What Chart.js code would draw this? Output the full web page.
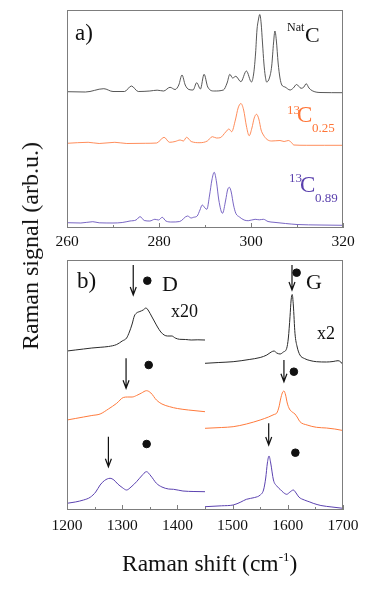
<!DOCTYPE html>
<html><head><meta charset="utf-8">
<script src="https://cdn.jsdelivr.net/npm/chart.js@4"></script>
<style>
body{margin:0;background:#fff;width:374px;height:591px;overflow:hidden;position:relative;font-family:"Liberation Serif","Times New Roman",serif;}
canvas{position:absolute;left:0;}
.t{position:absolute;line-height:1;white-space:nowrap;color:#111;}
.o{color:#ff7436;}
.p{color:#5a40ad;}
</style></head><body>
<canvas id="ca" width="374" height="256" style="top:0"></canvas>
<canvas id="cb" width="374" height="341" style="top:250px"></canvas>

<div class="t" style="left:75px;top:21px;font-size:23px;">a)</div>
<div class="t" style="left:287px;top:21px;font-size:12px;">Nat</div>
<div class="t" style="left:305px;top:24px;font-size:22px;">C</div>
<div class="t o" style="left:287px;top:103px;font-size:13px;">13</div>
<div class="t o" style="left:297px;top:103px;font-size:23px;">C</div>
<div class="t o" style="left:312px;top:121px;font-size:13px;">0.25</div>
<div class="t p" style="left:289px;top:171px;font-size:13px;">13</div>
<div class="t p" style="left:300px;top:173px;font-size:23px;">C</div>
<div class="t p" style="left:315px;top:191px;font-size:13px;">0.89</div>

<div class="t" style="left:77px;top:269px;font-size:23px;">b)</div>
<div class="t" style="left:162px;top:273px;font-size:22px;">D</div>
<div class="t" style="left:306px;top:271px;font-size:22px;">G</div>
<div class="t" style="left:171px;top:302px;font-size:18px;">x20</div>
<div class="t" style="left:317px;top:324px;font-size:18px;">x2</div>

<div class="t" style="left:30px;top:246px;font-size:24px;transform:translate(-50%,-50%) rotate(-90deg);">Raman signal (arb.u.)</div>
<div class="t" style="left:122px;top:552px;font-size:23.5px;">Raman shift (cm<span style="font-size:13px;position:relative;top:-10px;">-1</span>)</div>

<script>
// ---------- Panel a) low-frequency region ----------
const shiftNat = [260,264,268,270,272.5,274,275.5,278,279.6,281,282.4,283.5,284.3,285,285.7,286.5,287.4,288.2,289,289.8,290.6,292,294,294.8,295.4,296,296.7,297.8,299,300.1,300.6,301.0,301.3,301.6,301.9,302.2,302.5,302.8,303.1,303.4,304.0,304.5,304.9,305.2,305.5,305.9,306.3,306.7,307.4,308.5,309.2,309.9,310.9,311.5,312,312.6,313.3,315,320];
const sigNat = [136.3,136,139.3,136.5,136.5,142,136.5,137,137.8,137,140.7,138.5,143,153,143,138.5,138,145.3,139,153.7,141,137,138,145,153.7,150,151.7,146.3,157,146,155,175,198,208,213.5,205,185,165,152,146,150,162,185,197,188,165,150,143,141,138,140,143.5,139.7,141,144.3,140,137.3,135.5,135.3];

const shift25 = [260,264.6,267,270.4,273,277,279.5,281.1,282.3,283.5,284.6,285.3,286,287,288.9,290.5,291.6,292.5,293.3,294.5,295.2,295.8,296.6,297.2,297.8,298.4,299.0,299.6,300.2,300.7,301.2,301.7,302.2,302.7,303.5,304.5,306.3,307.2,308.1,308.8,309.3,312,316,320];
const sig25 = [84.7,85.7,84.5,85.7,84.5,84.7,85,90.7,85.7,86.5,88,87,90.7,86.5,85.3,87,91.3,90,90.3,96,99,96.3,108,120,124.5,118,102,92.3,100,110,113.7,109,98,93,88.5,87,87.5,86.5,87.5,85.5,83,82.7,82.7,82.7];

const shift89 = [260,263,265.6,267,270,272,273.7,275.0,275.9,276.8,278,279.1,279.9,280.7,281.5,282.8,284.5,286.2,287,287.5,288.3,288.9,289.4,290.0,290.4,291.0,291.5,292.0,292.5,293.0,293.8,294.5,294.9,295.3,295.7,296.2,296.7,297.5,298.5,299.4,300.9,301.8,302.7,303.7,305,307.5,310,315,320];
const sig89 = [5.3,5,6.3,5.2,5,5.5,7,8,11.3,7.5,7,8.7,8,10.7,7,6,6.5,12,10,10.7,12,18,23,20,18.7,33,48,55.7,46,28,14.7,28,38,40.7,36,23,14.7,11,8,7.3,8.7,8.2,8.7,6.5,5.7,4.5,3.5,3,2.7];

const ticksA = [260,280,300,320];

// ---------- Panel b) D and G bands ----------
const shiftD_nat = [1200,1215,1230,1245,1260,1275,1290,1300,1308,1313,1318,1322,1326,1332,1338,1343,1348,1353,1358,1364,1370,1376,1382,1390,1396,1404,1415,1425,1437,1450];
const sigD_nat = [159,160,161,162,162.7,163.5,165.5,169,172,178,186,194,197,198.5,200,202,199,194,189,183,178,175,174,174,172,170.7,170.5,170,170.2,170];
const shiftD_25 = [1200,1215,1230,1245,1260,1275,1290,1302,1310,1318,1326,1335,1344,1352,1362,1372,1386,1400,1420,1450];
const sigD_25 = [90,91.5,93,94.5,96,101,106.7,112.5,113,113,114.5,117,119.3,117,110,106,103.3,101.5,100,98.3];
const shiftD_89 = [1200,1215,1230,1242,1252,1260,1268,1278,1285,1292,1300,1308,1316,1326,1335,1344,1352,1362,1372,1384,1393,1410,1430,1450];
const sigD_89 = [6.7,8,10,12.7,18,25,29.5,31.7,30,26,22.5,20,23,28.3,34,38.3,34,26.7,23,21,20.7,19,18.5,18.3];

const shiftG_nat = [1450,1475,1501,1530,1550,1562,1570,1575,1580,1586,1592,1598,1601,1604,1606,1608,1610,1613,1617,1622,1630,1640,1652,1670,1682,1691,1696,1700];
const sigG_nat = [146.7,147.5,148.3,150.5,152.5,155,158,159,157,156,158,161.7,172,193.3,210,215.5,205,176.7,163,155,151.5,149.5,148.3,148,148.5,149.3,148,145];
const shiftG_25 = [1450,1480,1501,1525,1550,1565,1575,1580,1584,1587,1590,1593,1596,1599,1603,1608,1613,1618,1622,1635,1652,1670,1685,1700];
const sigG_25 = [81.7,82.5,83.3,86,90,93,95.5,97,103,111,117,119,115,107,101,98,96,92,88.3,85,82.7,82,81,79.5];
const shiftG_89 = [1450,1480,1501,1515,1525,1540,1550,1556,1560,1563,1566,1569,1574,1580,1586,1592,1598,1604,1610,1615,1620,1630,1640,1646,1660,1680,1700];
const sigG_89 = [3.3,4.2,5,8,10.7,12.5,15,20,32,47,54,47,30,24,20.7,17.5,15.7,18,20,17,13,10,8,6.7,4.5,3,1.7];

const dotShift = [1345.5,1348,1344.3,1616,1611,1613.7];
const dotSig = [229.3,145,66,237.3,138.3,57.3];
const arrowShift = [1320,1307,1275,1607.6,1593,1565.4];
const arrowFrom = [245,151.7,73.3,245,150,86.7];
const arrowTo = [215,121.7,43.3,220,128.3,65];

const ticksB = [1200,1300,1400,1500,1600,1700];

// ---------- helpers ----------
const pts = (xs, ys) => xs.map((x, i) => ({x: x, y: ys[i]}));
const COL_K = '#2a2a2a', COL_O = '#ff7a3c', COL_P = '#5b42b0';
const line = (xs, ys, c, w) => ({type:'line', data: pts(xs, ys), borderColor: c, borderWidth: w, pointRadius: 0, fill: false, cubicInterpolationMode: 'monotone'});

const frameTicks = {
  id: 'frameTicks',
  afterDraw(chart, args, opts) {
    const {ctx, chartArea: a, scales: {x}} = chart;
    ctx.save();
    ctx.strokeStyle = '#7d7d7d';
    ctx.lineWidth = 1;
    ctx.strokeRect(Math.round(a.left) + 0.5, Math.round(a.top) + 0.5, Math.round(a.right - a.left) - 1, Math.round(a.bottom - a.top) - 1);
    ctx.beginPath();
    const n = Math.round((x.max - x.min) / opts.minor);
    for (let i = 0; i <= n; i++) {
      const v = x.min + i * opts.minor;
      const px = Math.round(x.getPixelForValue(v)) + 0.5;
      const len = (i % opts.ratio === 0) ? 5 : 3;
      ctx.moveTo(px, a.bottom); ctx.lineTo(px, a.bottom - len);
    }
    ctx.stroke();
    ctx.restore();
  }
};

const arrows = {
  id: 'arrows',
  afterDatasetsDraw(chart) {
    const {ctx, scales: {x, y}} = chart;
    ctx.save();
    ctx.strokeStyle = '#111';
    ctx.lineWidth = 1.2;
    arrowShift.forEach((s, i) => {
      const px = x.getPixelForValue(s);
      const y0 = y.getPixelForValue(arrowFrom[i]);
      const y1 = y.getPixelForValue(arrowTo[i]);
      ctx.beginPath();
      ctx.moveTo(px, y0); ctx.lineTo(px, y1);
      ctx.moveTo(px - 3, y1 - 8); ctx.lineTo(px, y1); ctx.lineTo(px + 3, y1 - 8);
      ctx.stroke();
    });
    ctx.restore();
  }
};

const tickFont = {family: '"Liberation Serif","Times New Roman",serif', size: 15.5};

function xAxis(min, max, ticks, h, pad) {
  return {
    type: 'linear', min: min, max: max,
    afterBuildTicks: s => { s.ticks = ticks.map(v => ({value: v})); },
    afterFit: s => { s.height = h; },
    ticks: {font: tickFont, color: '#111', padding: pad, maxRotation: 0, autoSkip: false, callback: v => String(v)},
    grid: {display: false, drawTicks: false},
    border: {display: false}
  };
}

const common = {
  responsive: false, animation: false, devicePixelRatio: 1,
  plugins: {legend: {display: false}, tooltip: {enabled: false}}
};

new Chart(document.getElementById('ca'), {
  type: 'scatter',
  data: {datasets: [
    line(shiftNat, sigNat, '#444', 0.9),
    line(shift25, sig25, '#ff8048', 0.9),
    line(shift89, sig89, '#6a55bd', 0.9)
  ]},
  options: Object.assign({}, common, {
    layout: {padding: {left: 67, right: 31, top: 10, bottom: 0}},
    scales: {
      x: xAxis(260, 320, ticksA, 28, 5),
      y: {display: false, min: 0, max: 218}
    },
    plugins: Object.assign({}, common.plugins, {frameTicks: {minor: 10, ratio: 2}})
  }),
  plugins: [frameTicks]
});

new Chart(document.getElementById('cb'), {
  type: 'scatter',
  data: {datasets: [
    line(shiftD_nat, sigD_nat, COL_K, 1),
    line(shiftD_25, sigD_25, COL_O, 1),
    line(shiftD_89, sigD_89, COL_P, 1),
    line(shiftG_nat, sigG_nat, COL_K, 1),
    line(shiftG_25, sigG_25, COL_O, 1),
    line(shiftG_89, sigG_89, COL_P, 1),
    {type: 'scatter', data: pts(dotShift, dotSig), pointRadius: 3.8, backgroundColor: '#111', borderColor: '#111', showLine: false}
  ]},
  options: Object.assign({}, common, {
    layout: {padding: {left: 67, right: 31, top: 10, bottom: 0}},
    scales: {
      x: xAxis(1200, 1700, ticksB, 81, 7),
      y: {display: false, min: 0, max: 250}
    },
    plugins: Object.assign({}, common.plugins, {frameTicks: {minor: 50, ratio: 2}})
  }),
  plugins: [frameTicks, arrows]
});
</script>
</body></html>
